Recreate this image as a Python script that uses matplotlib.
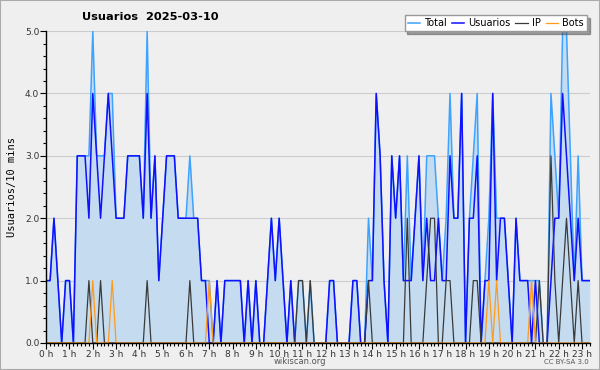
import matplotlib
matplotlib.use("Agg")
import matplotlib.pyplot as plt
from matplotlib.patches import Rectangle
from matplotlib.ticker import MultipleLocator, FormatStrFormatter
import numpy as np

# one value every 10 minutes, starting 00:00
total = [1, 1, 2, 1, 0, 1, 1, 0, 3, 3, 3, 3, 5, 3, 3, 3, 4, 4, 2, 2,
         2, 3, 3, 3, 3, 2, 5, 2, 3, 1, 2, 3, 3, 3, 2, 2, 2, 3, 2, 2,
         1, 1, 1, 0, 1, 0, 1, 1, 1, 1, 1, 0, 1, 0, 1, 0, 0, 1, 2, 1,
         2, 1, 0, 1, 0, 1, 1, 0, 1, 0, 0, 0, 0, 1, 1, 0, 0, 0, 0, 1,
         1, 0, 0, 2, 1, 4, 3, 1, 0, 3, 2, 3, 1, 3, 1, 2, 3, 1, 3, 3,
         3, 2, 1, 2, 4, 2, 2, 4, 0, 2, 3, 4, 0, 1, 2, 4, 2, 2, 2, 1,
         0, 2, 1, 1, 1, 1, 1, 1, 0, 0, 4, 3, 2, 5, 5, 3, 1, 3, 1, 1,
         1]
usuarios = [1, 1, 2, 1, 0, 1, 1, 0, 3, 3, 3, 2, 4, 3, 2, 3, 4, 3, 2, 2,
            2, 3, 3, 3, 3, 2, 4, 2, 3, 1, 2, 3, 3, 3, 2, 2, 2, 2, 2, 2,
            1, 1, 0, 0, 1, 0, 1, 1, 1, 1, 1, 0, 1, 0, 1, 0, 0, 1, 2, 1,
            2, 1, 0, 1, 0, 0, 0, 0, 0, 0, 0, 0, 0, 1, 1, 0, 0, 0, 0, 1,
            1, 0, 0, 1, 1, 4, 3, 1, 0, 3, 2, 3, 1, 1, 1, 2, 3, 1, 2, 1,
            1, 2, 1, 1, 3, 2, 2, 4, 0, 2, 2, 3, 0, 1, 1, 4, 1, 2, 2, 1,
            0, 2, 1, 1, 1, 0, 1, 0, 0, 0, 1, 2, 2, 4, 3, 2, 1, 2, 1, 1,
            1]
ip = [0, 0, 0, 0, 0, 0, 0, 0, 0, 0, 0, 1, 0, 0, 1, 0, 0, 0, 0, 0,
      0, 0, 0, 0, 0, 0, 1, 0, 0, 0, 0, 0, 0, 0, 0, 0, 0, 1, 0, 0,
      0, 0, 0, 0, 0, 0, 0, 0, 0, 0, 0, 0, 0, 0, 0, 0, 0, 0, 0, 0,
      0, 0, 0, 0, 0, 1, 1, 0, 1, 0, 0, 0, 0, 0, 0, 0, 0, 0, 0, 0,
      0, 0, 0, 1, 0, 0, 0, 0, 0, 0, 0, 0, 0, 2, 0, 0, 0, 0, 1, 2,
      2, 0, 0, 1, 1, 0, 0, 0, 0, 0, 1, 1, 0, 0, 0, 0, 0, 0, 0, 0,
      0, 0, 0, 0, 0, 0, 0, 1, 0, 0, 3, 1, 0, 1, 2, 1, 0, 1, 0, 0,
      0]
bots = [0, 0, 0, 0, 0, 0, 0, 0, 0, 0, 0, 0, 1, 0, 0, 0, 0, 1, 0, 0,
        0, 0, 0, 0, 0, 0, 0, 0, 0, 0, 0, 0, 0, 0, 0, 0, 0, 0, 0, 0,
        0, 0, 1, 0, 0, 0, 0, 0, 0, 0, 0, 0, 0, 0, 0, 0, 0, 0, 0, 0,
        0, 0, 0, 0, 0, 0, 0, 0, 0, 0, 0, 0, 0, 0, 0, 0, 0, 0, 0, 0,
        0, 0, 0, 0, 0, 0, 0, 0, 0, 0, 0, 0, 0, 0, 0, 0, 0, 0, 0, 0,
        0, 0, 0, 0, 0, 0, 0, 0, 0, 0, 0, 0, 0, 0, 1, 0, 1, 0, 0, 0,
        0, 0, 0, 0, 0, 1, 0, 0, 0, 0, 0, 0, 0, 0, 0, 0, 0, 0, 0, 0,
        0]
hour_labels = ["%d h" % h for h in range(24)]

x = np.arange(len(total))
bg = "#efefef"

fig = plt.figure(figsize=(6, 3.7), dpi=100, facecolor=bg)
ax = fig.add_axes([0.077, 0.073, 0.906, 0.843], facecolor=bg)

ax.fill_between(x, total, color="#c5dcf0", lw=0)
ax.plot(x, total, color="#3ea2ff", lw=1.1, label="Total")
ax.plot(x, usuarios, color="#1010ff", lw=1.1, label="Usuarios")
ax.plot(x, ip, color="#3a3a3a", lw=0.9, label="IP")
ax.plot(x, bots, color="#ff9a1a", lw=0.9, label="Bots")

ax.set_xlim(0, len(total) - 1)
ax.set_ylim(0, 5)

ax.yaxis.set_major_locator(MultipleLocator(1))
ax.yaxis.set_minor_locator(MultipleLocator(0.2))
ax.yaxis.set_major_formatter(FormatStrFormatter("%.1f"))
ax.set_xticks(np.arange(0, 24) * 6)
ax.set_xticklabels(hour_labels)
ax.xaxis.set_minor_locator(MultipleLocator(1))

ax.tick_params(axis="both", which="major", labelsize=6.5, length=4, width=0.8,
               colors="black", labelcolor="#333333", pad=1)
ax.tick_params(axis="both", which="minor", length=2.5, width=0.8)

ax.grid(axis="y", color="#cccccc", lw=0.8)
ax.set_axisbelow(True)
for s in ["top", "right"]:
    ax.spines[s].set_visible(False)
for s in ["left", "bottom"]:
    ax.spines[s].set_linewidth(1.0)

ax.set_ylabel("Usuarios/10 mins", family="DejaVu Sans Mono", fontsize=7.5, labelpad=6)

fig.text(0.137, 0.953, "Usuarios  2025-03-10", fontsize=8.2, fontweight="bold", ha="left", va="center")

fig.legend(loc="upper right", bbox_to_anchor=(0.986, 0.972), ncol=4, fontsize=7,
           handlelength=1.3, handletextpad=0.4, columnspacing=0.5, borderpad=0.3,
           fancybox=False, shadow=True, framealpha=1, edgecolor="#999999")

fig.text(0.5, 0.022, "wikiscan.org", fontsize=6, color="#555555", ha="center", va="center")
fig.text(0.982, 0.022, "CC BY-SA 3.0", fontsize=5, color="#555555", ha="right", va="center")

fig.add_artist(Rectangle((0, 0), 1, 1, transform=fig.transFigure, fill=False,
                         edgecolor="#aaaaaa", lw=1.5))

fig.savefig("out.png", dpi=100, facecolor=bg)
